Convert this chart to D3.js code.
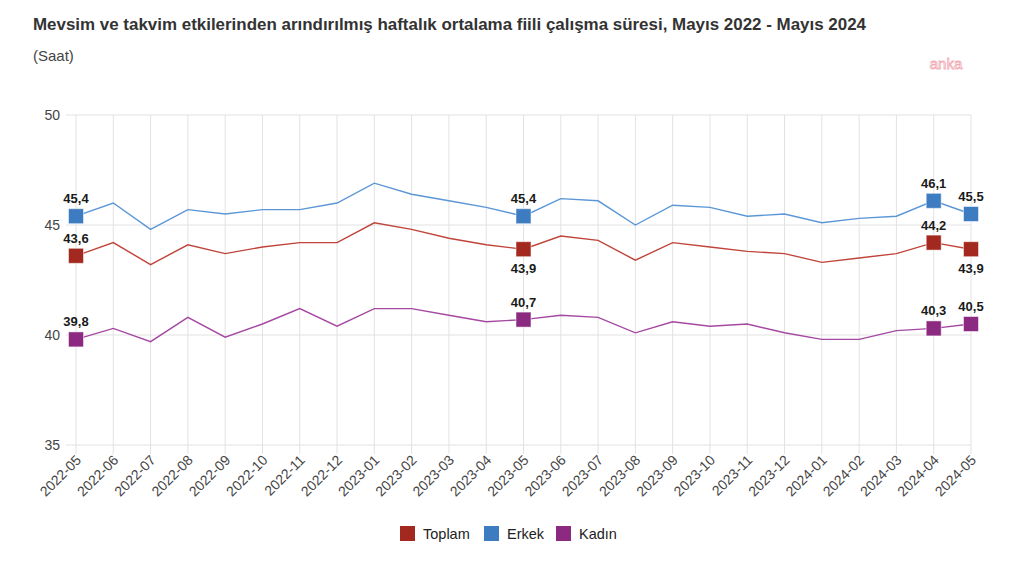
<!DOCTYPE html>
<html><head><meta charset="utf-8">
<script src="https://cdn.jsdelivr.net/npm/d3@7"></script>
<style>body{margin:0;background:#fff;}svg{display:block;font-family:"Liberation Sans",Arial,Helvetica,sans-serif;}</style>
</head><body>
<svg id="chart" width="1024" height="567"></svg>
<script>
const months = ["2022-05","2022-06","2022-07","2022-08","2022-09","2022-10","2022-11","2022-12","2023-01","2023-02","2023-03","2023-04","2023-05","2023-06","2023-07","2023-08","2023-09","2023-10","2023-11","2023-12","2024-01","2024-02","2024-03","2024-04","2024-05"];
const toplam = [43.6,44.2,43.2,44.1,43.7,44.0,44.2,44.2,45.1,44.8,44.4,44.1,43.9,44.5,44.3,43.4,44.2,44.0,43.8,43.7,43.3,43.5,43.7,44.2,43.9];
const erkek  = [45.4,46.0,44.8,45.7,45.5,45.7,45.7,46.0,46.9,46.4,46.1,45.8,45.4,46.2,46.1,45.0,45.9,45.8,45.4,45.5,45.1,45.3,45.4,46.1,45.5];
const kadin  = [39.8,40.3,39.7,40.8,39.9,40.5,41.2,40.4,41.2,41.2,40.9,40.6,40.7,40.9,40.8,40.1,40.6,40.4,40.5,40.1,39.8,39.8,40.2,40.3,40.5];
const yTicks = [35,40,45,50];
const highlighted = [0,12,23,24];
const seriesNames = ["Toplam","Erkek","Kadın"];
const title = "Mevsim ve takvim etkilerinden arındırılmış haftalık ortalama fiili çalışma süresi, Mayıs 2022 - Mayıs 2024";
const subtitle = "(Saat)";

const series = [
  {name: seriesNames[0], values: toplam, line: "#c0443a", fill: "#a3281f", labelPos: {0:"above",12:"below",23:"above",24:"below"}},
  {name: seriesNames[1], values: erkek, line: "#5b96d6", fill: "#3e7cc2", labelPos: {0:"above",12:"above",23:"above",24:"above"}},
  {name: seriesNames[2], values: kadin, line: "#a548a1", fill: "#8b2a80", labelPos: {0:"above",12:"above",23:"above",24:"above"}}
];

const svg = d3.select("#chart");
const x = d3.scalePoint().domain(months).range([76, 971]);
const y = d3.scaleLinear().domain([35,50]).range([445,115]);
const fmt = v => d3.format(".1f")(v).replace(".", ",");

// title
svg.append("text").attr("x",33).attr("y",30).attr("font-size",16.5).attr("font-weight","bold").attr("fill","#333")
  .attr("textLength",833).attr("lengthAdjust","spacingAndGlyphs").text(title);
svg.append("text").attr("x",33).attr("y",61).attr("font-size",15).attr("fill","#444").text(subtitle);
svg.append("text").attr("x",946).attr("y",69).attr("text-anchor","middle").attr("font-size",15).attr("fill","#fff").attr("stroke","#f2a9b3").attr("stroke-width",0.8).text("anka");

// grid
const g = svg.append("g");
g.selectAll(".hg").data(yTicks).join("line")
  .attr("x1",66).attr("x2",971).attr("y1",d=>y(d)).attr("y2",d=>y(d))
  .attr("stroke","#e2e2e2").attr("stroke-width",1);
g.selectAll(".vg").data(months).join("line")
  .attr("x1",d=>x(d)).attr("x2",d=>x(d)).attr("y1",115).attr("y2",454)
  .attr("stroke","#e2e2e2").attr("stroke-width",1);

// y axis labels
g.selectAll(".yl").data(yTicks).join("text")
  .attr("x",60).attr("y",d=>y(d)+5).attr("text-anchor","end")
  .attr("font-size",14).attr("fill","#444").text(d=>d);

// x axis labels
g.selectAll(".xl").data(months).join("text")
  .attr("transform",d=>`translate(${x(d)+6},${461}) rotate(-45)`)
  .attr("text-anchor","end").attr("font-size",14).attr("fill","#444").text(d=>d);

// lines
const line = d3.line().x((d,i)=>x(months[i])).y(d=>y(d));
series.forEach(s=>{
  svg.append("path").datum(s.values).attr("d",line).attr("fill","none")
    .attr("stroke",s.line).attr("stroke-width",1.4);
});
// markers + labels
series.forEach(s=>{
  highlighted.forEach(i=>{
    const cx = x(months[i]), cy = y(s.values[i]);
    svg.append("rect").attr("x",cx-7.5).attr("y",cy-7.5).attr("width",15).attr("height",15)
      .attr("fill",s.fill).attr("stroke","#fff").attr("stroke-opacity",0.5).attr("stroke-width",1);
    const pos = s.labelPos[i];
    svg.append("text").attr("x",cx).attr("y", pos==="above" ? cy-13 : cy+24)
      .attr("text-anchor","middle").attr("font-size",13).attr("font-weight","bold").attr("fill","#1a1a1a")
      .text(fmt(s.values[i]));
  });
});

// legend
const leg = svg.append("g");
const legX = [400,484,556];
series.forEach((s,i)=>{
  leg.append("rect").attr("x",legX[i]).attr("y",526).attr("width",15).attr("height",15).attr("fill",s.fill);
  leg.append("text").attr("x",legX[i]+23).attr("y",538.5).attr("font-size",14.5).attr("fill","#222").text(s.name);
});
</script>
</body></html>
